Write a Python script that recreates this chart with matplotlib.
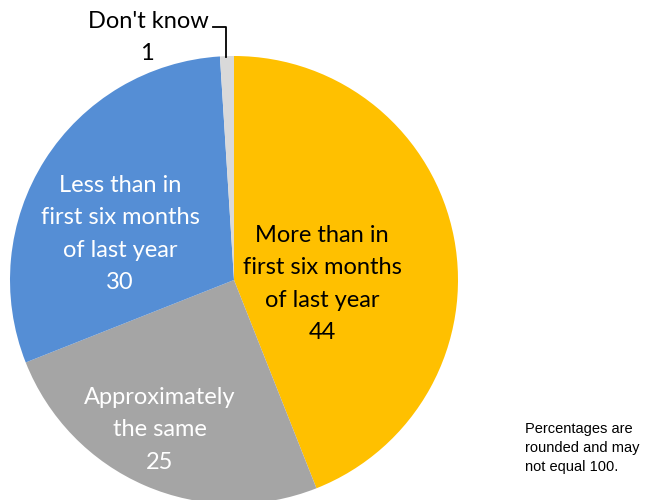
import matplotlib.pyplot as plt

labels = ["More than in\nfirst six months\nof last year", "Approximately\nthe same",
          "Less than in\nfirst six months\nof last year", "Don't know"]
values = [44, 25, 30, 1]
colors = ["#FFC000", "#A5A5A5", "#558ED5", "#D9D9D9"]
label_colors = ["black", "white", "white", "black"]

# label centres in pixel coordinates (y measured upward)
label_xy = [(322, 216), (160, 70), (120, 266)]

W, H = 663, 500
fig = plt.figure(figsize=(W / 100, H / 100), dpi=100)
ax = fig.add_axes([0, 0, 1, 1])

ax.pie(values, colors=colors, startangle=90, counterclock=False,
       center=(234, 220), radius=224, wedgeprops=dict(linewidth=0))
ax.set_xlim(0, W)
ax.set_ylim(0, H)
ax.set_aspect("equal")
ax.axis("off")

for (x, y), lab, val, c in zip(label_xy, labels, values, label_colors):
    ax.text(x, y, f"{lab}\n{val}", ha="center", va="center", color=c,
            fontsize=17, family="Lato", linespacing=1.65)

# Don't know gets a leader line
ax.text(148, 479, labels[3], ha="center", va="center", fontsize=17, family="Lato")
ax.text(147, 446, str(values[3]), ha="center", va="center", fontsize=17, family="Lato")
ax.plot([213, 226, 226], [473, 473, 443], color="black", linewidth=1.3)

ax.text(525, 52, "Percentages are\nrounded and may\nnot equal 100.", ha="left", va="center",
        fontsize=10.5, family="Liberation Sans", linespacing=1.45)

plt.savefig("out.png", dpi=100)
plt.close()
